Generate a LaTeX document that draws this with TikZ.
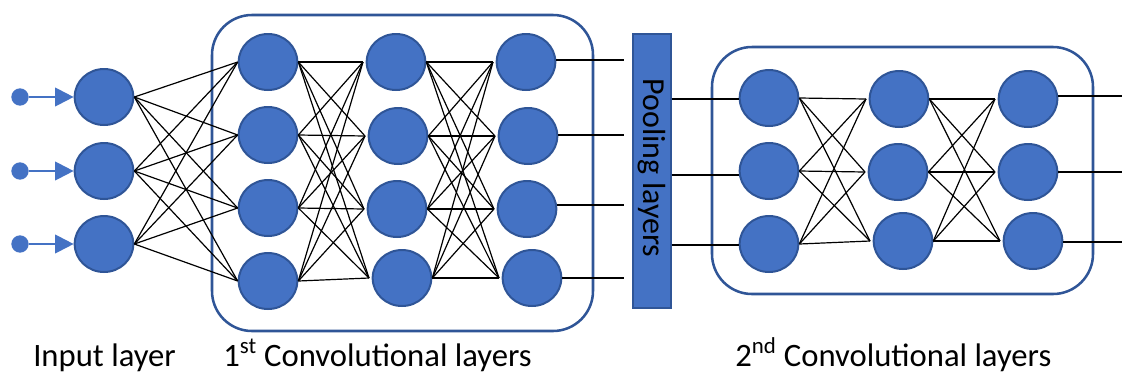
\documentclass[tikz,border=0pt]{standalone}
\usepackage{fontspec}
\setmainfont{Carlito}
\usetikzlibrary{shapes.geometric,arrows.meta}
\definecolor{nfill}{HTML}{4472C4}
\definecolor{nedge}{HTML}{2F5597}
\begin{document}
\begin{tikzpicture}[x=0.75pt,y=-0.75pt,
  neuron/.style={ellipse,fill=nfill,draw=nedge,line width=1.5pt,minimum width=44pt,minimum height=42pt,inner sep=0pt},
  dotnode/.style={circle,fill=nfill,minimum size=13pt,inner sep=0pt},
  conn/.style={black,line width=0.9pt},
  frame/.style={draw=nedge,line width=1.9pt,rounded corners=30pt},
  inarrow/.style={draw=nfill,line width=1.6pt,-{Triangle[length=14pt,width=14pt]}},
  lbl/.style={font=\fontsize{24.5}{28}\selectfont,anchor=base west,inner sep=0pt}]
\useasboundingbox (0,0) rectangle (1122,376);
% frames
\draw[frame] (212,15) rectangle (593,331);
\draw[frame] (712,47) rectangle (1093,294);
% input layer
\foreach \i/\y in {1/97,2/171,3/244}{
  \node[neuron] (in\i) at (104,\y) {};
  \node[dotnode] (d\i) at (20,\y) {};
  \draw[inarrow] (d\i) -- (in\i.west);
}
% first conv layers
\foreach \i/\y in {1/62,2/135,3/208,4/281} \node[neuron] (a\i) at (268,\y) {};
\foreach \i/\x/\y in {1/396/62,2/398/136,3/397/209,4/402/278} \node[neuron] (b\i) at (\x,\y) {};
\foreach \i/\x/\y in {1/526/62,2/528/136,3/527/209,4/532/278} \node[neuron] (c\i) at (\x,\y) {};
% pooling
\node[draw=nedge,fill=nfill,line width=1.5pt,minimum width=28pt,minimum height=205pt,inner sep=0pt] (pool) at (652,171) {};
\node[rotate=-90,font=\fontsize{24}{28}\selectfont,inner sep=0pt] (pooltxt) at (652,168) {Pooling layers};
% second conv layers
\foreach \i/\y in {1/98,2/171,3/244} \node[neuron] (p\i) at (769,\y) {};
\foreach \i/\x/\y in {1/899/99,2/898/172,3/903/241} \node[neuron] (q\i) at (\x,\y) {};
\foreach \i/\x/\y in {1/1028/99,2/1028/172,3/1033/241} \node[neuron] (r\i) at (\x,\y) {};
% connections
\foreach \i in {1,2,3} \foreach \j in {1,2,3,4} \draw[conn] (in\i.east) -- (a\j.west);
\foreach \i in {1,2,3,4} \foreach \j in {1,2,3,4} {
  \draw[conn] (a\i.east) -- ([xshift=-2pt]b\j.west);
  \draw[conn] (b\i.east) -- ([xshift=-2pt]c\j.west);
}
\foreach \i/\y in {1/60,2/135,3/205,4/278} {
  \coordinate (pin\i) at (pool.west |- 0,\y);
  \draw[conn] (c\i.east |- 0,\y) -- ([xshift=-6pt]pin\i);
}
\foreach \i/\y in {1/99,2/175,3/245} {
  \coordinate (pout\i) at (pool.east |- 0,\y);
  \draw[conn] (pout\i) -- (p\i.west |- 0,\y);
}
\foreach \i in {1,2,3} \foreach \j in {1,2,3} {
  \draw[conn] (p\i.east) -- ([xshift=-2pt]q\j.west);
  \draw[conn] (q\i.east) -- ([xshift=-2pt]r\j.west);
}
\foreach \i/\y in {1/96,2/172,3/242} {
  \coordinate (out\i) at (1122,\y);
  \draw[conn] (r\i.east |- 0,\y) -- (out\i);
}
% labels
\node[lbl] (l1) at (33,366) {Input layer};
\node[lbl] (l2) at (223,366) {1\textsuperscript{st} Convolutional layers};
\node[lbl] (l3) at (735,366) {2\textsuperscript{nd} Convolutional layers};
\end{tikzpicture}
\end{document}
